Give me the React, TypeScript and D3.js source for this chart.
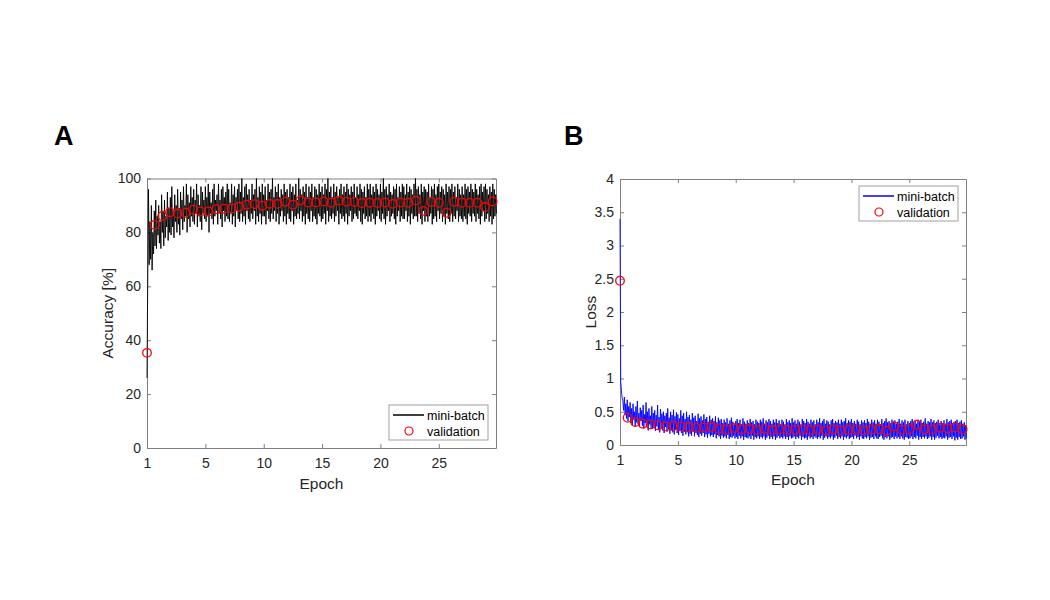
import React, { useEffect, useRef } from 'react';
import * as d3 from 'd3';

// mini-batch accuracy [%], 16 samples per epoch
const batchAccuracy = [
  26, 62, 96, 68, 84, 70, 90, 66, 80, 72, 88, 75, 92, 74, 86, 79,
  90, 76, 84, 74, 94, 80, 88, 75, 92, 78, 86, 82, 95, 77, 89, 80,
  93, 79, 97, 82, 88, 78, 94, 84, 90, 80, 96, 83, 89, 79, 95, 85,
  92, 81, 97, 84, 90, 86, 98, 80, 94, 85, 91, 82, 97, 86, 93, 84,
  96, 83, 92, 87, 98, 82, 94, 86, 90, 84, 97, 81, 95, 87, 92, 85,
  97, 84, 93, 86, 98, 80, 95, 87, 91, 85, 96, 83, 98, 86, 92, 88,
  94, 83, 98, 87, 92, 85, 96, 82, 97, 88, 93, 84, 95, 86, 98, 85,
  96, 84, 91, 87, 98, 83, 94, 86, 97, 82, 93, 88, 96, 85, 98, 84,
  95, 87, 100, 84, 93, 86, 97, 83, 98, 88, 94, 85, 96, 84, 92, 87,
  98, 85, 94, 88, 96, 83, 100, 86, 93, 84, 97, 87, 95, 83, 98, 86,
  94, 86, 97, 83, 92, 88, 98, 85, 95, 84, 96, 87, 100, 85, 93, 88,
  97, 84, 95, 87, 98, 83, 93, 86, 96, 88, 94, 84, 98, 86, 95, 83,
  96, 87, 93, 85, 98, 84, 95, 88, 97, 83, 94, 86, 98, 85, 92, 87,
  100, 85, 96, 88, 94, 84, 97, 86, 95, 83, 98, 87, 93, 85, 97, 84,
  95, 88, 98, 84, 93, 86, 97, 85, 96, 83, 94, 87, 98, 86, 95, 84,
  97, 85, 94, 87, 98, 83, 96, 88, 100, 84, 95, 86, 97, 85, 93, 87,
  98, 84, 95, 86, 97, 88, 93, 83, 96, 87, 98, 85, 94, 86, 97, 84,
  95, 87, 98, 83, 96, 86, 94, 88, 97, 84, 95, 85, 98, 87, 93, 86,
  97, 85, 94, 88, 98, 84, 96, 83, 95, 87, 97, 85, 93, 86, 98, 84,
  96, 86, 98, 84, 94, 87, 97, 85, 95, 83, 98, 86, 96, 88, 94, 85,
  98, 84, 95, 87, 100, 85, 96, 83, 97, 86, 94, 88, 98, 84, 95, 86,
  94, 87, 97, 85, 96, 83, 98, 86, 93, 88, 97, 84, 95, 86, 98, 85,
  97, 85, 94, 88, 98, 84, 95, 86, 97, 83, 96, 87, 94, 85, 98, 86,
  100, 86, 96, 84, 97, 87, 94, 85, 98, 83, 95, 88, 97, 84, 96, 86,
  95, 84, 98, 86, 93, 87, 97, 83, 96, 85, 98, 86, 94, 84, 97, 88,
  98, 85, 95, 87, 97, 84, 96, 86, 94, 83, 98, 87, 95, 85, 97, 84,
  96, 87, 98, 84, 95, 86, 97, 85, 93, 88, 98, 84, 96, 86, 94, 85,
  97, 84, 94, 86, 98, 85, 96, 83, 97, 87, 95, 86, 98, 84, 96, 87,
  95, 86, 98, 84, 96, 87, 94, 85, 97, 83, 98, 86, 95, 88, 97, 84,
  98, 85, 96, 87, 94, 84, 97, 86, 95, 83, 98, 85, 96, 86, 94, 87,
];

// validation accuracy [%]
const valAccuracy = [
  35.3, 82.8, 86.1, 87.5, 87.0, 87.3, 88.4, 87.8, 87.8, 88.6, 88.8, 88.9,
  89.5, 90.3, 90.5, 89.9, 90.6, 90.6, 91.4, 90.3, 91.9, 91.1, 91.1, 91.5,
  91.0, 91.8, 91.4, 91.3, 90.9, 91.0, 90.9, 91.1, 90.6, 91.1, 91.0, 91.8,
  88.0, 91.3, 91.0, 87.3, 91.4, 91.0, 91.0, 91.0, 89.4, 91.5,
];

// mini-batch loss, 16 samples per epoch
const batchLoss = [
  3.40, 0.95, 0.82, 0.70, 0.66, 0.52, 0.72, 0.45, 0.62, 0.40, 0.68, 0.36, 0.58, 0.42, 0.64, 0.33,
  0.55, 0.30, 0.62, 0.38, 0.50, 0.28, 0.58, 0.34, 0.66, 0.31, 0.48, 0.27, 0.56, 0.36, 0.52, 0.29,
  0.60, 0.25, 0.46, 0.33, 0.64, 0.27, 0.50, 0.22, 0.55, 0.31, 0.44, 0.26, 0.58, 0.24, 0.48, 0.30,
  0.52, 0.21, 0.45, 0.28, 0.60, 0.23, 0.42, 0.19, 0.54, 0.26, 0.47, 0.22, 0.50, 0.18, 0.44, 0.27,
  0.48, 0.20, 0.55, 0.24, 0.41, 0.17, 0.50, 0.22, 0.45, 0.19, 0.53, 0.16, 0.43, 0.23, 0.49, 0.18,
  0.46, 0.15, 0.40, 0.21, 0.52, 0.18, 0.44, 0.14, 0.48, 0.20, 0.39, 0.16, 0.50, 0.19, 0.42, 0.13,
  0.45, 0.17, 0.38, 0.14, 0.48, 0.20, 0.41, 0.13, 0.44, 0.18, 0.36, 0.15, 0.47, 0.12, 0.40, 0.17,
  0.43, 0.14, 0.37, 0.18, 0.46, 0.12, 0.39, 0.16, 0.42, 0.11, 0.35, 0.17, 0.44, 0.13, 0.38, 0.15,
  0.40, 0.12, 0.36, 0.16, 0.43, 0.10, 0.34, 0.15, 0.41, 0.13, 0.37, 0.09, 0.39, 0.14, 0.33, 0.11,
  0.38, 0.13, 0.34, 0.10, 0.40, 0.15, 0.32, 0.09, 0.37, 0.12, 0.41, 0.11, 0.35, 0.14, 0.31, 0.10,
  0.36, 0.12, 0.39, 0.09, 0.33, 0.14, 0.38, 0.10, 0.31, 0.13, 0.40, 0.08, 0.35, 0.12, 0.32, 0.11,
  0.37, 0.10, 0.33, 0.13, 0.39, 0.09, 0.34, 0.14, 0.36, 0.08, 0.31, 0.12, 0.38, 0.10, 0.35, 0.13,
  0.33, 0.09, 0.38, 0.12, 0.35, 0.10, 0.40, 0.13, 0.32, 0.08, 0.37, 0.11, 0.34, 0.14, 0.39, 0.09,
  0.36, 0.12, 0.32, 0.09, 0.38, 0.13, 0.34, 0.08, 0.39, 0.11, 0.33, 0.14, 0.37, 0.10, 0.31, 0.12,
  0.38, 0.10, 0.35, 0.13, 0.31, 0.09, 0.39, 0.12, 0.34, 0.08, 0.37, 0.13, 0.33, 0.10, 0.40, 0.11,
  0.34, 0.13, 0.37, 0.09, 0.32, 0.12, 0.38, 0.10, 0.35, 0.14, 0.31, 0.08, 0.39, 0.12, 0.36, 0.10,
  0.33, 0.11, 0.39, 0.08, 0.35, 0.13, 0.32, 0.10, 0.38, 0.12, 0.34, 0.09, 0.37, 0.13, 0.31, 0.11,
  0.38, 0.09, 0.34, 0.12, 0.40, 0.10, 0.33, 0.14, 0.36, 0.08, 0.39, 0.11, 0.32, 0.13, 0.37, 0.09,
  0.35, 0.12, 0.31, 0.10, 0.37, 0.13, 0.39, 0.08, 0.33, 0.11, 0.36, 0.14, 0.34, 0.09, 0.38, 0.12,
  0.32, 0.10, 0.38, 0.13, 0.34, 0.08, 0.36, 0.12, 0.40, 0.10, 0.33, 0.13, 0.37, 0.09, 0.35, 0.11,
  0.39, 0.12, 0.33, 0.09, 0.36, 0.14, 0.32, 0.10, 0.38, 0.12, 0.35, 0.08, 0.31, 0.13, 0.37, 0.10,
  0.34, 0.09, 0.37, 0.12, 0.33, 0.10, 0.39, 0.13, 0.35, 0.08, 0.32, 0.11, 0.38, 0.12, 0.34, 0.09,
  0.37, 0.13, 0.32, 0.10, 0.38, 0.09, 0.35, 0.12, 0.31, 0.14, 0.39, 0.10, 0.33, 0.08, 0.36, 0.12,
  0.40, 0.10, 0.34, 0.13, 0.36, 0.08, 0.33, 0.11, 0.38, 0.12, 0.35, 0.09, 0.37, 0.13, 0.32, 0.10,
  0.35, 0.12, 0.39, 0.09, 0.32, 0.13, 0.37, 0.10, 0.34, 0.08, 0.38, 0.12, 0.31, 0.11, 0.36, 0.09,
  0.33, 0.10, 0.36, 0.13, 0.39, 0.09, 0.34, 0.12, 0.37, 0.10, 0.32, 0.14, 0.38, 0.08, 0.35, 0.12,
  0.38, 0.09, 0.33, 0.12, 0.35, 0.10, 0.40, 0.13, 0.32, 0.09, 0.36, 0.11, 0.34, 0.13, 0.39, 0.08,
  0.34, 0.12, 0.37, 0.08, 0.33, 0.11, 0.35, 0.14, 0.38, 0.10, 0.31, 0.12, 0.36, 0.09, 0.33, 0.11,
  0.37, 0.10, 0.32, 0.13, 0.39, 0.08, 0.34, 0.11, 0.36, 0.12, 0.38, 0.09, 0.33, 0.13, 0.35, 0.07,
  0.36, 0.11, 0.38, 0.08, 0.33, 0.12, 0.35, 0.09, 0.37, 0.10, 0.32, 0.13, 0.34, 0.08, 0.30, 0.10,
];

// validation loss
const valLoss = [
  2.47, 0.41, 0.345, 0.32, 0.31, 0.295, 0.28, 0.285, 0.28, 0.27, 0.26, 0.265,
  0.27, 0.25, 0.23, 0.255, 0.235, 0.24, 0.225, 0.245, 0.225, 0.235, 0.225, 0.23,
  0.23, 0.225, 0.23, 0.22, 0.235, 0.22, 0.23, 0.23, 0.22, 0.235, 0.24, 0.215,
  0.28, 0.23, 0.235, 0.305, 0.235, 0.235, 0.26, 0.25, 0.265, 0.235,
];

const epochTicks = [0, 5, 10, 15, 20, 25];
const epochTickLabels = ['1', '5', '10', '15', '20', '25'];
const accuracyTicks = [0, 20, 40, 60, 80, 100];
const lossTicks = [0, 0.5, 1, 1.5, 2, 2.5, 3, 3.5, 4];

const SAMPLE_STEP = 0.0625; // epochs between mini-batch samples
const VAL_STEP = 0.658; // epochs between validation passes
const EPOCH_END = 29.9;

const FONT = "'Liberation Sans', Arial, Helvetica, sans-serif";

interface PanelSpec {
  id: string;
  letter: string;
  letterX: number;
  left: number;
  top: number;
  width: number;
  height: number;
  yDomain: [number, number];
  yTicks: number[];
  yLabel: string;
  yLabelX: number;
  xLabelY: number;
  color: string;
  batch: number[];
  val: number[];
  legendTop: boolean;
}

const panels: PanelSpec[] = [
  {
    id: 'acc', letter: 'A', letterX: 54, left: 147, top: 178.5, width: 349, height: 269.5,
    yDomain: [0, 100], yTicks: accuracyTicks, yLabel: 'Accuracy [%]', yLabelX: 113,
    xLabelY: 488.5, color: '#000000', batch: batchAccuracy, val: valAccuracy, legendTop: false,
  },
  {
    id: 'loss', letter: 'B', letterX: 564, left: 620, top: 179, width: 346, height: 266,
    yDomain: [0, 4], yTicks: lossTicks, yLabel: 'Loss', yLabelX: 596,
    xLabelY: 485, color: '#0000ff', batch: batchLoss, val: valLoss, legendTop: true,
  },
];

const App: React.FC = () => {
  const svgRef = useRef<SVGSVGElement>(null);

  useEffect(() => {
    const svg = d3.select(svgRef.current);
    svg.selectAll('*').remove();

    panels.forEach((p) => {
      const x = d3.scaleLinear().domain([0, EPOCH_END]).range([0, p.width]);
      const y = d3.scaleLinear().domain(p.yDomain).range([p.height, 0]);

      svg.append('text')
        .attr('x', p.letterX).attr('y', 145)
        .attr('font-family', FONT).attr('font-weight', 'bold').attr('font-size', 27)
        .attr('fill', '#000')
        .text(p.letter);

      const g = svg.append('g').attr('transform', `translate(${p.left},${p.top})`);

      // axes with inward ticks, MATLAB style box (drawn first so the traces sit on top)
      const styleAxis = (sel: d3.Selection<SVGGElement, unknown, null, undefined>) => {
        sel.selectAll('path, line').attr('stroke', '#808080');
        sel.selectAll('text').attr('fill', '#262626').attr('font-family', FONT).attr('font-size', 14);
      };

      g.append('g')
        .attr('transform', `translate(0,${p.height})`)
        .call(d3.axisBottom(x).tickValues(epochTicks)
          .tickFormat((_, i) => epochTickLabels[i])
          .tickSizeInner(-4).tickSizeOuter(0).tickPadding(10))
        .call(styleAxis);
      g.append('g')
        .call(d3.axisTop(x).tickValues(epochTicks).tickFormat(() => '')
          .tickSizeInner(-4).tickSizeOuter(0))
        .call(styleAxis);
      g.append('g')
        .call(d3.axisLeft(y).tickValues(p.yTicks).tickFormat(d3.format('~g'))
          .tickSizeInner(-4).tickSizeOuter(0).tickPadding(6))
        .call(styleAxis);
      g.append('g')
        .attr('transform', `translate(${p.width},0)`)
        .call(d3.axisRight(y).tickValues(p.yTicks).tickFormat(() => '')
          .tickSizeInner(-4).tickSizeOuter(0))
        .call(styleAxis);

      g.append('clipPath').attr('id', `clip-${p.id}`)
        .append('rect').attr('x', -1).attr('y', -1)
        .attr('width', p.width + 2).attr('height', p.height + 2);

      // mini-batch trace
      const line = d3.line<number>()
        .x((_, i) => x(i * SAMPLE_STEP))
        .y((d) => y(d));
      g.append('path')
        .attr('clip-path', `url(#clip-${p.id})`)
        .attr('d', line(p.batch))
        .attr('fill', 'none')
        .attr('stroke', p.color)
        .attr('stroke-width', 0.9)
        .attr('stroke-linejoin', 'round');

      // validation markers
      g.selectAll('circle.val')
        .data(p.val)
        .enter().append('circle')
        .attr('class', 'val')
        .attr('cx', (_, i) => x(i * VAL_STEP))
        .attr('cy', (d) => y(d))
        .attr('r', 4.3)
        .attr('fill', 'none')
        .attr('stroke', '#ff0000')
        .attr('stroke-width', 1.3);

      // axis titles
      svg.append('text')
        .attr('x', p.left + p.width / 2).attr('y', p.xLabelY)
        .attr('text-anchor', 'middle')
        .attr('font-family', FONT).attr('font-size', 15.5).attr('fill', '#262626')
        .text('Epoch');
      svg.append('text')
        .attr('transform', `translate(${p.yLabelX},${p.top + p.height / 2}) rotate(-90)`)
        .attr('text-anchor', 'middle')
        .attr('font-family', FONT).attr('font-size', 15.5).attr('fill', '#262626')
        .text(p.yLabel);

      // legend
      const lw = 99;
      const lh = 35;
      const lx = p.width - 8 - lw;
      const ly = p.legendTop ? 7 : p.height - 8 - lh;
      const leg = g.append('g').attr('transform', `translate(${lx},${ly})`);
      leg.append('rect')
        .attr('width', lw).attr('height', lh)
        .attr('fill', '#fff').attr('stroke', '#a0a0a0').attr('stroke-width', 1);
      leg.append('line')
        .attr('x1', 4).attr('x2', 35).attr('y1', 10).attr('y2', 10)
        .attr('stroke', p.color).attr('stroke-width', 1.5);
      leg.append('circle')
        .attr('cx', 20).attr('cy', 26).attr('r', 4)
        .attr('fill', 'none').attr('stroke', '#ff0000').attr('stroke-width', 1.2);
      [['mini-batch', 14.5], ['validation', 30.5]].forEach(([t, ty]) => {
        leg.append('text')
          .attr('x', 38).attr('y', ty as number)
          .attr('font-family', FONT).attr('font-size', 12.5).attr('fill', '#000')
          .text(t as string);
      });
    });
  }, []);

  return (
    <svg
      ref={svgRef}
      width={1050}
      height={600}
      style={{ position: 'absolute', left: 0, top: 0, background: '#fff' }}
    />
  );
};

export default App;
